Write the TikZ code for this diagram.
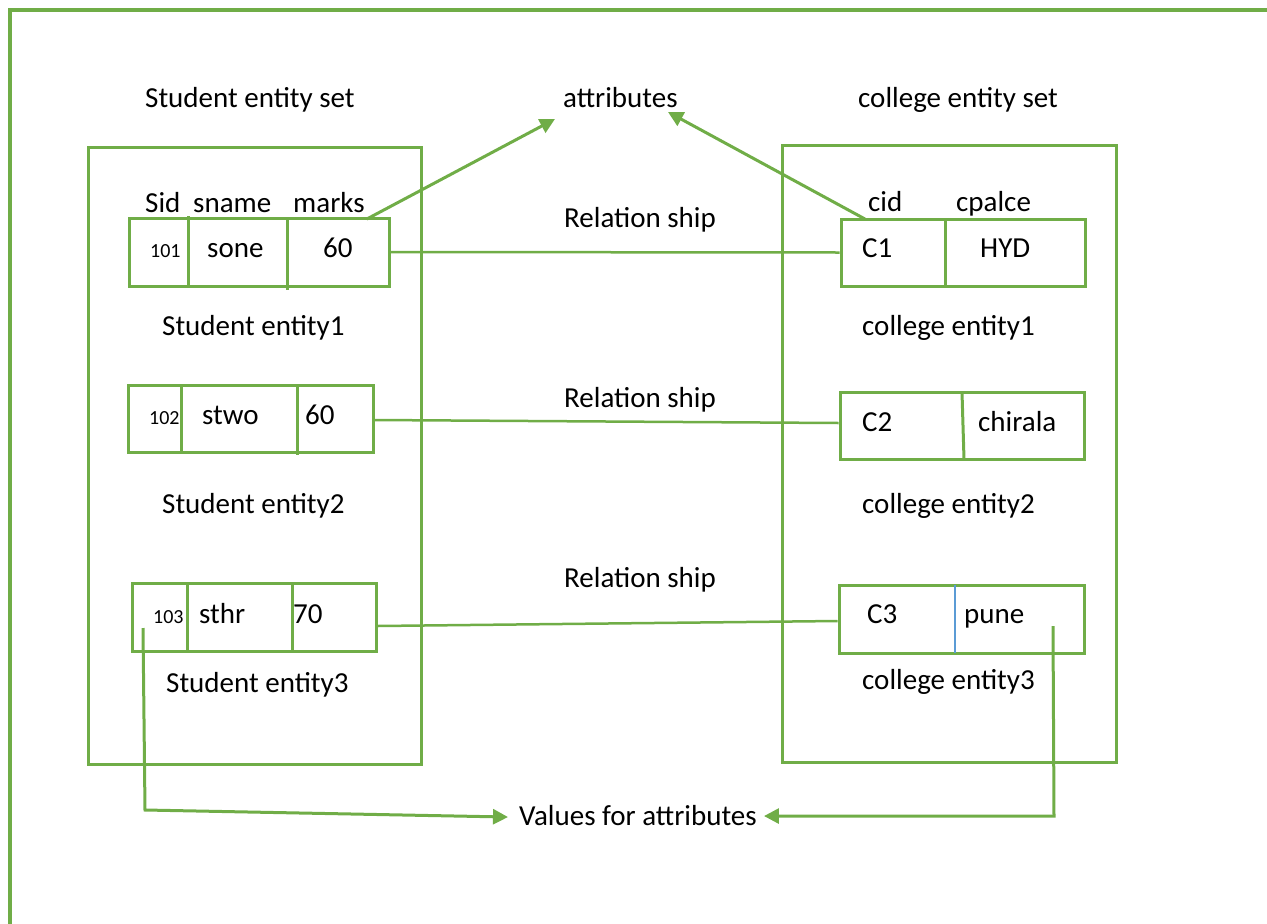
\documentclass[tikz,border=0pt]{standalone}
\usepackage{fontspec}
\setmainfont{Carlito}
\usetikzlibrary{arrows.meta,calc}
\definecolor{og}{HTML}{70AD47}
\definecolor{ob}{HTML}{5B9BD5}
\tikzset{
  gline/.style={draw=og,line width=3pt},
  setbox/.style={gline,rectangle,inner sep=0pt},
  rowbox/.style={gline,rectangle,inner sep=0pt},
  lbl/.style={anchor=base west,inner sep=0pt,font=\fontsize{29}{34}\selectfont},
  small/.style={anchor=base west,inner sep=0pt,font=\fontsize{20}{24}\selectfont},
  arr/.style={gline,-{Triangle[length=15pt,width=15pt]}},
}
\begin{document}
\begin{tikzpicture}[x=1pt,y=-1pt]
\useasboundingbox (0,0) rectangle (1267,924);
% outer frame
\draw[draw=og,line width=3.5pt] (1267,10) -- (10,10) -- (10,924);
% titles
\node[lbl] (tstu) at (145,107) {Student entity set};
\node[lbl] (attr) at (563,107) {attributes};
\node[lbl] (tcol) at (858,107) {college entity set};
% set boxes
\node[setbox,minimum width=333pt,minimum height=617pt] (sset) at (254.5,455.5) {};
\node[setbox,minimum width=334pt,minimum height=617pt] (cset) at (949,453.5) {};
% student rows
\node[rowbox,minimum width=260pt,minimum height=68pt] (s1) at (259,252) {};
\node[rowbox,minimum width=245pt,minimum height=67pt] (s2) at (250.5,418.5) {};
\node[rowbox,minimum width=244pt,minimum height=68pt] (s3) at (254,617) {};
% college rows
\node[rowbox,minimum width=244pt,minimum height=67pt] (c1) at (963,252.5) {};
\node[rowbox,minimum width=244pt,minimum height=67pt] (c2) at (962,425.5) {};
\node[rowbox,minimum width=245pt,minimum height=68pt] (c3) at (961.5,619) {};
% dividers
\draw[gline] (188,216) -- (188,286);
\draw[gline] (287,219) -- (287,290);
\draw[gline] (181,385) -- (181,452);
\draw[gline] (297,385) -- (297,455);
\draw[gline] (187,583) -- (187,651);
\draw[gline] (292,583) -- (292,651);
\draw[gline] (945,219) -- (945,286);
\draw[gline] (962,392) -- (964,459);
\draw[draw=ob,line width=1.2pt] (955,585) -- (955,653);
% headers
\node[lbl] (hsid) at (145,212) {Sid};
\node[lbl] (hsname) at (193,212) {sname};
\node[lbl] (hmarks) at (293,212) {marks};
\node[lbl] (hcid) at (868,211) {cid};
\node[lbl] (hcpl) at (956,211) {cpalce};
% values row 1
\node[small] (v101) at (150,257) {101};
\node[lbl] (vsone) at (207,257) {sone};
\node[lbl] (v60a) at (323,257) {60};
\node[lbl] (vc1) at (862,257) {C1};
\node[lbl] (vhyd) at (980,257) {HYD};
% values row 2
\node[small] (v102) at (149,424) {102};
\node[lbl] (vstwo) at (202,424) {stwo};
\node[lbl] (v60b) at (305,424) {60};
\node[lbl] (vc2) at (862,431) {C2};
\node[lbl] (vchir) at (978,431) {chirala};
% values row 3
\node[small] (v103) at (153,623) {103};
\node[lbl] (vsthr) at (199,623) {sthr};
\node[lbl] (v70) at (293,623) {70};
\node[lbl] (vc3) at (867,623) {C3};
\node[lbl] (vpune) at (964,623) {pune};
% entity labels
\node[lbl] (se1) at (162,335) {Student entity1};
\node[lbl] (ce1) at (862,335) {college entity1};
\node[lbl] (se2) at (162,513) {Student entity2};
\node[lbl] (ce2) at (862,513) {college entity2};
\node[lbl] (se3) at (166,692) {Student entity3};
\node[lbl] (ce3) at (862,689) {college entity3};
% relationship labels
\node[lbl] (r1) at (564,227) {Relation ship};
\node[lbl] (r2) at (564,407) {Relation ship};
\node[lbl] (r3) at (564,587) {Relation ship};
% values for attributes
\node[lbl] (vals) at (519,825) {Values for attributes};
% relationship connectors
\draw[gline,line width=2.5pt] (s1.east) -- (c1.west);
\draw[gline,line width=2.5pt] ([yshift=-1.5pt]s2.east) -- ([yshift=2.5pt]c2.west);
\draw[gline,line width=2.5pt] ([yshift=-9pt]s3.east) -- ([yshift=-2pt]c3.west);
% attribute arrows
\coordinate (ta1) at (555,119);
\coordinate (ta2) at (668,112);
\draw[arr] ([xshift=2pt,yshift=-17pt]hmarks.east) -- (ta1);
\draw[arr] ([xshift=-3pt,yshift=-18pt]hcid.west) -- (ta2);
% value arrows
\coordinate (p1) at (143,628);
\coordinate (p2) at (1053,626);
\draw[arr] (p1) -- (145,810) -- ([xshift=-11pt,yshift=-2pt]vals.west);
\draw[arr] (p2) -- (1054,816) -- ([xshift=7pt,yshift=-1pt]vals.east);
\end{tikzpicture}
\end{document}
